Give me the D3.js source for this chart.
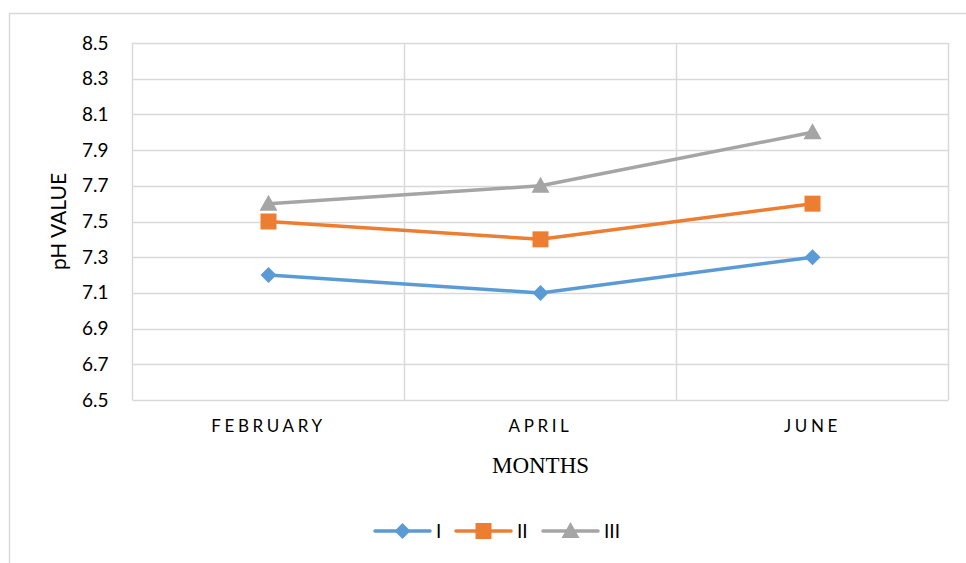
<!DOCTYPE html>
<html>
<head>
<meta charset="utf-8">
<script src="https://cdn.jsdelivr.net/npm/d3@7"></script>
<style>
  html, body { margin: 0; padding: 0; background: #fff; }
  svg { display: block; }
</style>
</head>
<body>
<svg id="chart" width="966" height="563"></svg>
<script>
// Monthly pH readings for three sampling sites
const months = ["FEBRUARY", "APRIL", "JUNE"];
const seriesNames = ["I", "II", "III"];
const siteI = [7.2, 7.1, 7.3];
const siteII = [7.5, 7.4, 7.6];
const siteIII = [7.6, 7.7, 8.0];
const yTicks = [6.5, 6.7, 6.9, 7.1, 7.3, 7.5, 7.7, 7.9, 8.1, 8.3, 8.5];

const series = [
  { name: seriesNames[0], values: siteI, color: "#5B9BD5", marker: "diamond" },
  { name: seriesNames[1], values: siteII, color: "#ED7D31", marker: "square" },
  { name: seriesNames[2], values: siteIII, color: "#A5A5A5", marker: "triangle" }
];

const svg = d3.select("#chart");
const plot = { left: 132.5, right: 948.5, top: 43, bottom: 400 };
const gridColor = "#D9D9D9";
const tickFont = "Lato, 'Open Sans', sans-serif";

// Outer chart frame
svg.append("rect")
  .attr("x", 9.5).attr("y", 13.5)
  .attr("width", 1000).attr("height", 700)
  .attr("fill", "none").attr("stroke", gridColor).attr("stroke-width", 1.5);

const x = d3.scaleBand().domain(months).range([plot.left, plot.right]).padding(0);
const y = d3.scaleLinear().domain([6.5, 8.5]).range([plot.bottom, plot.top]);

// Horizontal gridlines
svg.append("g").selectAll("line").data(yTicks).join("line")
  .attr("x1", plot.left).attr("x2", plot.right)
  .attr("y1", d => Math.round(y(d)) + 0.5).attr("y2", d => Math.round(y(d)) + 0.5)
  .attr("stroke", gridColor).attr("stroke-width", 1.5);

// Vertical gridlines at category boundaries
const bounds = months.map(m => x(m)).concat([plot.right]);
svg.append("g").selectAll("line").data(bounds).join("line")
  .attr("x1", d => d).attr("x2", d => d)
  .attr("y1", plot.top).attr("y2", plot.bottom)
  .attr("stroke", gridColor).attr("stroke-width", 1.5);

// Y axis tick labels
const yAxis = d3.axisLeft(y).tickValues(yTicks).tickFormat(d3.format(".1f")).tickSize(0).tickPadding(0);
const yg = svg.append("g").attr("transform", `translate(${plot.left - 24},0)`).call(yAxis);
yg.select(".domain").remove();
yg.selectAll("text")
  .attr("font-family", tickFont).attr("font-size", 19).attr("fill", "#000");

// X axis category labels
const xAxis = d3.axisBottom(x).tickSize(0).tickPadding(0);
const xg = svg.append("g").attr("transform", `translate(0,${plot.bottom + 20})`).call(xAxis);
xg.select(".domain").remove();
xg.selectAll("text")
  .attr("font-family", tickFont).attr("font-size", 17).attr("fill", "#000")
  .attr("letter-spacing", "3.6px").attr("dy", "0.71em");

// Axis titles
svg.append("text")
  .attr("transform", `translate(66,${(plot.top + plot.bottom) / 2}) rotate(-90)`)
  .attr("text-anchor", "middle")
  .attr("font-family", tickFont).attr("font-size", 21).attr("fill", "#000")
  .text("pH VALUE");

svg.append("text")
  .attr("x", x("APRIL") + x.bandwidth() / 2).attr("y", 473)
  .attr("text-anchor", "middle")
  .attr("font-family", "'Liberation Serif', 'Times New Roman', serif")
  .attr("font-size", 23).attr("fill", "#000")
  .text("MONTHS");

// Marker shapes
function marker(sel, type, color) {
  if (type === "diamond") {
    sel.append("path").attr("d", "M0,-8L8,0L0,8L-8,0Z").attr("fill", color);
  } else if (type === "square") {
    sel.append("rect").attr("x", -8).attr("y", -8).attr("width", 16).attr("height", 16).attr("fill", color);
  } else {
    sel.append("path").attr("d", "M0,-9L9,7L-9,7Z").attr("fill", color);
  }
}

const cx = m => x(m) + x.bandwidth() / 2;
const line = d3.line().x((d, i) => cx(months[i])).y(d => y(d));

series.forEach(s => {
  const g = svg.append("g");
  g.append("path").datum(s.values)
    .attr("d", line).attr("fill", "none")
    .attr("stroke", s.color).attr("stroke-width", 3.5).attr("stroke-linejoin", "round").attr("stroke-linecap", "round");
  s.values.forEach((v, i) => {
    const mg = g.append("g").attr("transform", `translate(${cx(months[i])},${y(v)})`);
    marker(mg, s.marker, s.color);
  });
});

// Legend
const legendX = [375, 456, 543];
const legend = svg.append("g");
series.forEach((s, i) => {
  const lg = legend.append("g").attr("transform", `translate(${legendX[i]},531)`);
  lg.append("line").attr("x1", 0).attr("x2", 55).attr("y1", 0).attr("y2", 0)
    .attr("stroke", s.color).attr("stroke-width", 3.5).attr("stroke-linecap", "round");
  const mg = lg.append("g").attr("transform", "translate(27.5,0)");
  marker(mg, s.marker, s.color);
  lg.append("text").attr("x", 61).attr("y", 0).attr("dy", "0.35em")
    .attr("font-family", tickFont).attr("font-size", 19).attr("fill", "#000")
    .text(s.name);
});
</script>
</body>
</html>
